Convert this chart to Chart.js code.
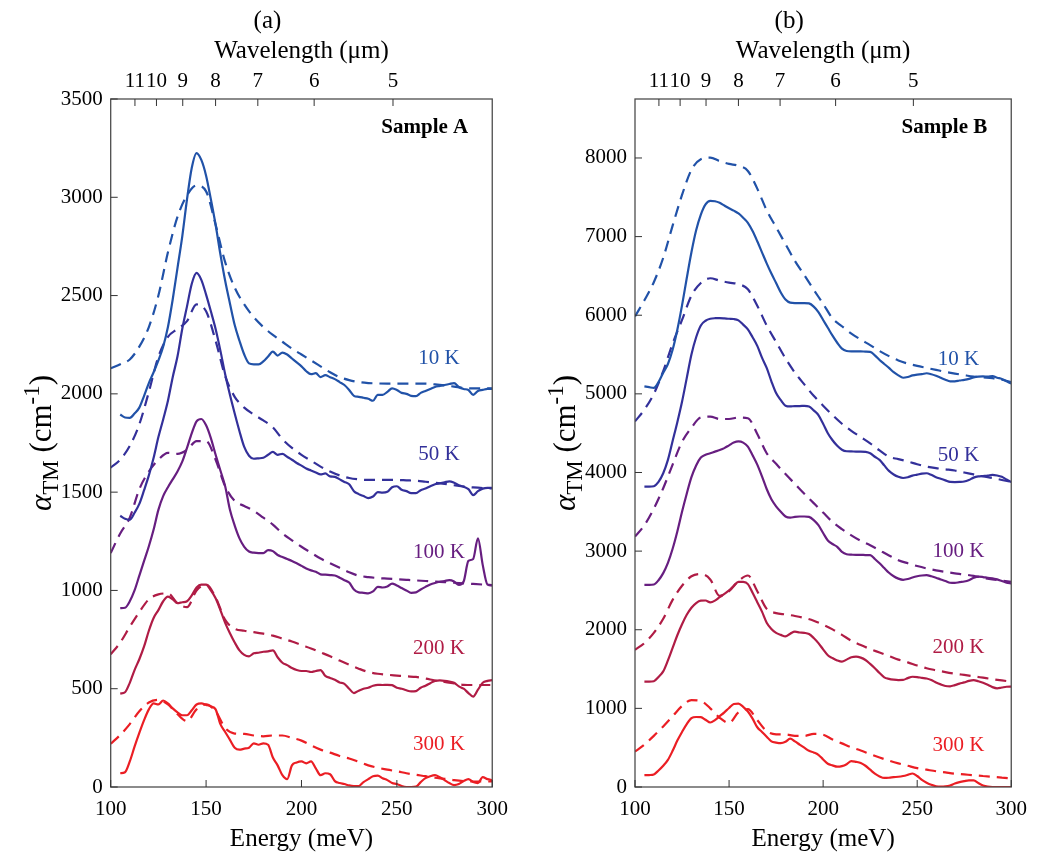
<!DOCTYPE html>
<html>
<head>
<meta charset="utf-8">
<title>Absorption spectra</title>
<script src="https://cdn.jsdelivr.net/npm/chart.js@4.4.0/dist/chart.umd.min.js"></script>
<style>
  body { margin: 0; background: #fff; }
  canvas.panel { position: absolute; top: 0; }
</style>
</head>
<body>
<canvas id="panelA" class="panel" width="518" height="852" style="left:0"></canvas>
<canvas id="panelB" class="panel" width="519" height="852" style="left:518px"></canvas>
<script>
// photon energy (meV) <-> wavelength (um)
const HC = 1239.84;

// energy grids (meV): measured spectra and model curves
const energy = [105, 107.5, 110, 112.5, 115, 117.5, 120, 122.5, 125, 127.5,
  130, 132.5, 135, 137.5, 140, 142.5, 145, 147.5, 150, 152.5,
  155, 157.5, 160, 162.5, 165, 167.5, 170, 172.5, 175, 177.5,
  180, 182.5, 185, 187.5, 190, 192.5, 195, 197.5, 200, 202.5,
  205, 207.5, 210, 212.5, 215, 217.5, 220, 222.5, 225, 227.5,
  230, 232.5, 235, 237.5, 240, 242.5, 245, 247.5, 250, 252.5,
  255, 257.5, 260, 262.5, 265, 267.5, 270, 272.5, 275, 277.5,
  280, 282.5, 285, 287.5, 290, 292.5, 295, 297.5, 300];
const energyFit = [100, 105, 110, 115, 120, 125, 130, 135, 140, 145,
  150, 155, 160, 165, 170, 175, 180, 185, 190, 195,
  200, 205, 210, 215, 220, 225, 230, 235, 240, 245,
  250, 255, 260, 265, 270, 275, 280, 285, 290, 295, 300];

// tick labels
const energyTicks = [100, 150, 200, 250, 300];
const wavelengthTicks = [11, 10, 9, 8, 7, 6, 5];
const alphaTicksA = [0, 500, 1000, 1500, 2000, 2500, 3000, 3500];
const alphaTicksB = [0, 1000, 2000, 3000, 4000, 5000, 6000, 7000, 8000];

const temperatures = ['10 K', '50 K', '100 K', '200 K', '300 K'];
const tempColors = ['#2152a8', '#33309a', '#671e80', '#b01c45', '#eb1e24'];

// Sample A, measured alpha_TM (cm^-1)
const measA10 = [1895, 1880, 1878, 1900, 1930, 1990, 2055, 2110, 2170, 2240,
  2340, 2480, 2640, 2800, 2990, 3150, 3225, 3190, 3110, 2990,
  2860, 2710, 2575, 2460, 2350, 2270, 2200, 2155, 2150, 2150,
  2165, 2190, 2215, 2195, 2210, 2200, 2180, 2160, 2140, 2115,
  2100, 2105, 2085, 2095, 2085, 2075, 2060, 2045, 2020, 1990,
  1985, 1980, 1975, 1965, 1995, 1995, 2010, 2028, 2020, 2005,
  2000, 1990, 1988, 2005, 2015, 2025, 2035, 2040, 2045, 2050,
  2055, 2035, 2025, 2020, 1995, 2015, 2020, 2025, 2025];
const measA50 = [1380, 1365, 1360, 1395, 1440, 1510, 1585, 1675, 1780, 1870,
  1965, 2085, 2190, 2330, 2445, 2560, 2615, 2580, 2505, 2420,
  2330, 2220, 2100, 1995, 1900, 1810, 1730, 1685, 1670, 1672,
  1675, 1690, 1705, 1690, 1695, 1680, 1665, 1648, 1635, 1620,
  1610, 1600, 1590, 1595, 1580, 1578, 1565, 1552, 1540, 1505,
  1490, 1480, 1470, 1478, 1500, 1498, 1502, 1525, 1530, 1512,
  1505, 1495, 1495, 1510, 1518, 1530, 1540, 1545, 1550, 1555,
  1548, 1535, 1528, 1515, 1485, 1505, 1518, 1522, 1522];
const measA100 = [910, 912, 945, 1000, 1075, 1150, 1225, 1310, 1410, 1480,
  1525, 1565, 1605, 1655, 1725, 1800, 1860, 1872, 1840, 1775,
  1690, 1610, 1530, 1410, 1330, 1265, 1222, 1198, 1192, 1190,
  1190, 1205, 1200, 1180, 1170, 1160, 1150, 1138, 1125, 1112,
  1102, 1095, 1082, 1080, 1078, 1076, 1065, 1052, 1040, 1005,
  990, 988, 985, 995, 1018, 1015, 1020, 1035, 1025, 1012,
  1000, 988, 990, 1005, 1018, 1030, 1038, 1044, 1048, 1052,
  1045, 1028, 1045, 1150, 1160, 1265, 1130, 1030, 1025];
const measA200 = [475, 482, 530, 595, 650, 715, 795, 860, 900, 945,
  968, 955, 935, 940, 945, 975, 1015, 1030, 1030, 1000,
  960, 900, 835, 782, 735, 695, 672, 665, 680, 683,
  688, 690, 695, 660, 632, 620, 605, 595, 590, 590,
  585, 590, 595, 565, 555, 545, 532, 525, 500, 478,
  490, 500, 505, 515, 520, 519, 520, 518, 505, 500,
  492, 486, 488, 505, 515, 528, 540, 542, 540, 536,
  530, 512, 500, 478, 460, 495, 530, 540, 544];
const measA300 = [70, 75, 130, 205, 275, 340, 395, 425, 420, 440,
  425, 400, 380, 365, 365, 390, 420, 425, 418, 410,
  395, 320, 280, 240, 200, 190, 195, 200, 222, 215,
  222, 215, 150, 110, 60, 40, 110, 125, 130, 120,
  130, 95, 60, 70, 65, 30, 20, 15, 8, 5,
  5, 25, 40, 55, 58, 45, 35, 20, 15, 5,
  0, 0, 2, 25, 45, 55, 60, 50, 35, 20,
  10, 15, 30, 40, 25, 20, 50, 40, 35];

// Sample A, model curves
const fitA10 = [2130, 2150, 2175, 2240, 2340, 2500, 2720, 2900, 3010, 3060,
  3030, 2860, 2670, 2540, 2455, 2390, 2340, 2300, 2265, 2230,
  2200, 2170, 2140, 2110, 2085, 2070, 2060, 2055, 2053, 2052,
  2052, 2052, 2052, 2052, 2048, 2043, 2037, 2030, 2028, 2028, 2028];
const fitA50 = [1625, 1665, 1735, 1845, 2010, 2189, 2290, 2330, 2370, 2455,
  2420, 2270, 2090, 1985, 1930, 1895, 1865, 1830, 1770, 1725,
  1690, 1660, 1630, 1605, 1585, 1572, 1565, 1562, 1562, 1562,
  1562, 1560, 1558, 1553, 1548, 1542, 1535, 1528, 1524, 1521, 1519];
const fitA100 = [1190, 1290, 1370, 1515, 1605, 1665, 1700, 1695, 1715, 1760,
  1760, 1665, 1530, 1455, 1430, 1405, 1370, 1335, 1290, 1255,
  1222, 1192, 1162, 1138, 1115, 1092, 1075, 1068, 1063, 1060,
  1057, 1054, 1051, 1048, 1045, 1042, 1039, 1036, 1033, 1030, 1027];
const fitA200 = [675, 735, 815, 890, 955, 980, 985, 935, 915, 1000,
  1030, 965, 850, 805, 795, 788, 780, 770, 755, 740,
  722, 705, 685, 665, 643, 622, 602, 585, 576, 571,
  567, 563, 560, 552, 542, 534, 527, 520, 519, 519, 519];
const fitA300 = [220, 265, 320, 385, 430, 443, 420, 370, 335, 395,
  420, 385, 300, 272, 270, 262, 258, 262, 262, 250,
  236, 212, 190, 175, 158, 145, 128, 110, 98, 88,
  80, 70, 62, 55, 47, 42, 35, 30, 28, 28, 28];

// Sample B, measured alpha_TM (cm^-1)
const measB10 = [5095, 5085, 5075, 5150, 5270, 5380, 5560, 5815, 6125, 6470,
  6800, 7080, 7280, 7410, 7455, 7450, 7430, 7395, 7360, 7330,
  7295, 7240, 7175, 7070, 6940, 6800, 6660, 6530, 6410, 6290,
  6200, 6160, 6155, 6155, 6155, 6150, 6110, 6040, 5940, 5840,
  5740, 5650, 5575, 5545, 5540, 5540, 5540, 5538, 5535, 5490,
  5430, 5380, 5330, 5275, 5235, 5205, 5215, 5235, 5245, 5250,
  5262, 5250, 5230, 5205, 5180, 5160, 5160, 5170, 5178, 5190,
  5210, 5220, 5222, 5220, 5225, 5205, 5190, 5160, 5130];
const measB50 = [3820, 3820, 3825, 3880, 3990, 4160, 4400, 4640, 4900, 5200,
  5500, 5720, 5870, 5930, 5955, 5962, 5963, 5960, 5955, 5952,
  5935, 5880, 5820, 5720, 5610, 5460, 5330, 5160, 5010, 4920,
  4850, 4840, 4845, 4845, 4848, 4840, 4790, 4730, 4620, 4500,
  4410, 4340, 4290, 4270, 4268, 4266, 4266, 4262, 4245, 4200,
  4160, 4090, 4020, 3975, 3945, 3930, 3940, 3960, 3972, 3985,
  3990, 3970, 3940, 3920, 3900, 3880, 3878, 3880, 3885, 3905,
  3935, 3950, 3955, 3960, 3970, 3962, 3945, 3910, 3880];
const measB100 = [2570, 2570, 2575, 2630, 2720, 2850, 3030, 3250, 3500, 3730,
  3940, 4090, 4190, 4225, 4245, 4265, 4285, 4310, 4345, 4380,
  4395, 4380, 4330, 4220, 4100, 3950, 3790, 3660, 3570, 3500,
  3440, 3425, 3435, 3440, 3440, 3435, 3395, 3330, 3230, 3135,
  3090, 3055, 2990, 2960, 2955, 2952, 2952, 2950, 2948, 2900,
  2845, 2785, 2725, 2680, 2650, 2635, 2645, 2665, 2680, 2690,
  2695, 2680, 2662, 2640, 2620, 2598, 2595, 2605, 2613, 2630,
  2660, 2676, 2670, 2660, 2655, 2640, 2620, 2600, 2590];
const measB200 = [1340, 1340, 1345, 1400, 1470, 1610, 1770, 1930, 2070, 2190,
  2280, 2340, 2370, 2372, 2348, 2370, 2415, 2455, 2500, 2560,
  2610, 2608, 2580, 2470, 2350, 2230, 2090, 2010, 1960, 1935,
  1915, 1950, 1975, 1965, 1960, 1945, 1895, 1830, 1750, 1675,
  1640, 1610, 1594, 1620, 1650, 1658, 1645, 1615, 1565, 1510,
  1450, 1395, 1375, 1365, 1360, 1362, 1385, 1402, 1398, 1388,
  1380, 1360, 1330, 1305, 1285, 1280, 1295, 1315, 1330, 1350,
  1360, 1345, 1325, 1300, 1270, 1255, 1265, 1275, 1276];
const measB300 = [150, 152, 160, 210, 270, 345, 460, 590, 700, 800,
  875, 890, 888, 855, 820, 850, 900, 950, 1005, 1055,
  1060, 1020, 960, 870, 760, 700, 640, 580, 565, 558,
  575, 615, 580, 540, 500, 460, 440, 410, 350, 295,
  275, 258, 265, 290, 330, 320, 305, 270, 220, 170,
  135, 115, 118, 125, 130, 140, 155, 172, 140, 90,
  55, 28, 10, 5, 8, 20, 45, 62, 75, 85,
  85, 50, 20, 5, 0, 0, 0, 0, 0];

// Sample B, model curves
const fitB10 = [5985, 6190, 6420, 6730, 7140, 7530, 7850, 7985, 8005, 7960,
  7925, 7900, 7835, 7610, 7335, 7120, 6905, 6690, 6510, 6325,
  6145, 5960, 5860, 5765, 5690, 5620, 5545, 5480, 5425, 5385,
  5355, 5330, 5305, 5280, 5258, 5238, 5220, 5210, 5200, 5180, 5150];
const fitB50 = [4650, 4800, 5000, 5290, 5640, 5940, 6250, 6410, 6470, 6440,
  6415, 6395, 6330, 6120, 5870, 5660, 5450, 5270, 5120, 4975,
  4850, 4730, 4620, 4530, 4450, 4370, 4280, 4200, 4170, 4140,
  4105, 4075, 4055, 4040, 4025, 4000, 3975, 3950, 3930, 3905, 3880];
const fitB100 = [3185, 3330, 3540, 3800, 4100, 4390, 4570, 4700, 4710, 4680,
  4680, 4700, 4690, 4490, 4245, 4110, 3980, 3855, 3730, 3610,
  3490, 3370, 3280, 3200, 3130, 3075, 3010, 2945, 2885, 2845,
  2810, 2780, 2755, 2735, 2718, 2703, 2685, 2660, 2640, 2625, 2610];
const fitB200 = [1745, 1830, 1960, 2140, 2380, 2560, 2680, 2708, 2640, 2430,
  2490, 2620, 2690, 2490, 2265, 2212, 2195, 2175, 2150, 2115,
  2065, 2005, 1935, 1860, 1805, 1755, 1710, 1665, 1620, 1585,
  1545, 1510, 1485, 1462, 1442, 1425, 1408, 1390, 1372, 1355, 1340];
const fitB300 = [450, 540, 650, 770, 900, 1030, 1105, 1095, 1000, 880,
  815, 950, 990, 850, 710, 670, 668, 650, 650, 675,
  665, 605, 555, 505, 465, 418, 375, 335, 300, 270,
  240, 220, 200, 185, 170, 160, 150, 140, 130, 120, 110];

// where the temperature tags sit (energy, alpha)
const labelEnergy = 272;
const labelLevelsA = [2180, 1690, 1195, 707, 214];
const labelLevelsB = [5440, 4220, 2995, 1770, 534];

const SERIF = '"Liberation Serif", "Times New Roman", serif';
const TICK_LEN = 7;

Chart.defaults.font.family = SERIF;
Chart.defaults.color = '#000';

function points(xs, ys) {
  return xs.map((x, i) => ({ x: x, y: ys[i] }));
}

// y label: alpha_TM (cm^-1), rotated, with sub/superscript
function drawAlphaTitle(ctx, cx, cy) {
  const parts = [
    { t: 'α', font: 'italic 31px ' + SERIF, dy: 0 },
    { t: 'TM', font: '23px ' + SERIF, dy: 7 },
    { t: ' (cm', font: '31px ' + SERIF, dy: 0 },
    { t: '-1', font: '23px ' + SERIF, dy: -12 },
    { t: ')', font: '31px ' + SERIF, dy: 0 }
  ];
  ctx.save();
  ctx.translate(cx, cy);
  ctx.rotate(-Math.PI / 2);
  ctx.fillStyle = '#000';
  ctx.textBaseline = 'alphabetic';
  ctx.textAlign = 'left';
  let total = 0;
  parts.forEach(p => { ctx.font = p.font; p.w = ctx.measureText(p.t).width; total += p.w; });
  let x = -total / 2;
  parts.forEach(p => {
    ctx.font = p.font;
    ctx.fillText(p.t, x, 10 + p.dy);
    x += p.w;
  });
  ctx.restore();
}

// frame, inward ticks and text annotations
const panelDecor = {
  id: 'panelDecor',
  afterDraw(chart, args, opts) {
    const { ctx, chartArea: area } = chart;
    const { x, xTop, y } = chart.scales;
    ctx.save();

    ctx.strokeStyle = '#4d4d4d';
    ctx.lineWidth = 1.3;
    ctx.strokeRect(area.left, area.top, area.right - area.left, area.bottom - area.top);

    ctx.strokeStyle = '#333';
    ctx.lineWidth = 1;
    ctx.beginPath();
    x.ticks.forEach(t => {
      const px = x.getPixelForValue(t.value);
      ctx.moveTo(px, area.bottom);
      ctx.lineTo(px, area.bottom - TICK_LEN);
    });
    xTop.ticks.forEach(t => {
      const px = xTop.getPixelForValue(t.value);
      ctx.moveTo(px, area.top);
      ctx.lineTo(px, area.top + TICK_LEN);
    });
    y.ticks.forEach(t => {
      const py = y.getPixelForValue(t.value);
      ctx.moveTo(area.left, py);
      ctx.lineTo(area.left + TICK_LEN, py);
    });
    ctx.stroke();

    ctx.textBaseline = 'middle';
    ctx.fillStyle = '#000';
    ctx.textAlign = 'center';
    ctx.font = '25px ' + SERIF;
    ctx.fillText(opts.tag, (area.left + area.right) / 2 - 34, 21);

    ctx.textAlign = 'right';
    ctx.font = 'bold 21px ' + SERIF;
    ctx.fillText(opts.sample, area.right - 24, area.top + 29);

    ctx.textAlign = 'center';
    ctx.font = '21px ' + SERIF;
    opts.levels.forEach((v, i) => {
      ctx.fillStyle = tempColors[i];
      ctx.fillText(temperatures[i], x.getPixelForValue(labelEnergy), y.getPixelForValue(v));
    });

    drawAlphaTitle(ctx, area.left - 70, (area.top + area.bottom) / 2);
    ctx.restore();
  }
};

function makePanel(canvasId, p) {
  const datasets = [];
  temperatures.forEach((label, i) => {
    datasets.push({
      label: label,
      data: points(energy, p.measured[i]),
      borderColor: tempColors[i],
      borderWidth: 2.2,
      pointRadius: 0,
      cubicInterpolationMode: 'monotone'
    });
    datasets.push({
      label: label + ' model',
      data: points(energyFit, p.fits[i]),
      borderColor: tempColors[i],
      borderWidth: 2.2,
      borderDash: [11, 7],
      pointRadius: 0,
      cubicInterpolationMode: 'monotone'
    });
  });

  const tickFont = { family: SERIF, size: 21 };
  const titleFont = { family: SERIF, size: 25 };
  const noGrid = { display: false, drawTicks: false };

  return new Chart(document.getElementById(canvasId), {
    type: 'line',
    data: { datasets: datasets },
    plugins: [panelDecor],
    options: {
      responsive: false,
      animation: false,
      devicePixelRatio: 1,
      layout: { padding: { left: 0, right: p.padRight, top: 0, bottom: 0 } },
      plugins: {
        legend: { display: false },
        tooltip: { enabled: false },
        panelDecor: { tag: p.tag, sample: p.sample, levels: p.levels }
      },
      scales: {
        x: {
          type: 'linear', position: 'bottom', min: 100, max: 300,
          afterBuildTicks: s => { s.ticks = energyTicks.map(v => ({ value: v })); },
          afterFit: s => { s.height = 65; },
          grid: noGrid, border: { display: false },
          ticks: { font: tickFont, color: '#000', padding: 10, maxRotation: 0, autoSkip: false,
            callback: v => String(v) },
          title: { display: true, text: 'Energy (meV)', font: titleFont, color: '#000', padding: { top: 0, bottom: -2 } }
        },
        xTop: {
          type: 'linear', position: 'top', min: 100, max: 300,
          afterBuildTicks: s => { s.ticks = wavelengthTicks.map(w => ({ value: HC / w })); },
          afterFit: s => { s.height = 99; },
          grid: noGrid, border: { display: false },
          ticks: {
            font: tickFont, color: '#000', padding: 5, maxRotation: 0, autoSkip: false,
            callback: v => String(Math.round(HC / v))
          },
          title: { display: true, text: 'Wavelength (μm)', font: titleFont, color: '#000', padding: { top: 36, bottom: 0 } }
        },
        y: {
          type: 'linear', min: 0, max: p.yMax,
          afterBuildTicks: s => { s.ticks = p.yTicks.map(v => ({ value: v })); },
          afterFit: s => { s.width = p.yWidth; },
          grid: noGrid, border: { display: false },
          ticks: { font: tickFont, color: '#000', padding: 8, callback: v => String(v) }
        }
      }
    }
  });
}

makePanel('panelA', {
  measured: [measA10, measA50, measA100, measA200, measA300],
  fits: [fitA10, fitA50, fitA100, fitA200, fitA300],
  yMax: 3500, yTicks: alphaTicksA, yWidth: 110.7, padRight: 25.7,
  tag: '(a)', sample: 'Sample A', levels: labelLevelsA
});

makePanel('panelB', {
  measured: [measB10, measB50, measB100, measB200, measB300],
  fits: [fitB10, fitB50, fitB100, fitB200, fitB300],
  yMax: 8750, yTicks: alphaTicksB, yWidth: 117, padRight: 20,
  tag: '(b)', sample: 'Sample B', levels: labelLevelsB
});
</script>
</body>
</html>
